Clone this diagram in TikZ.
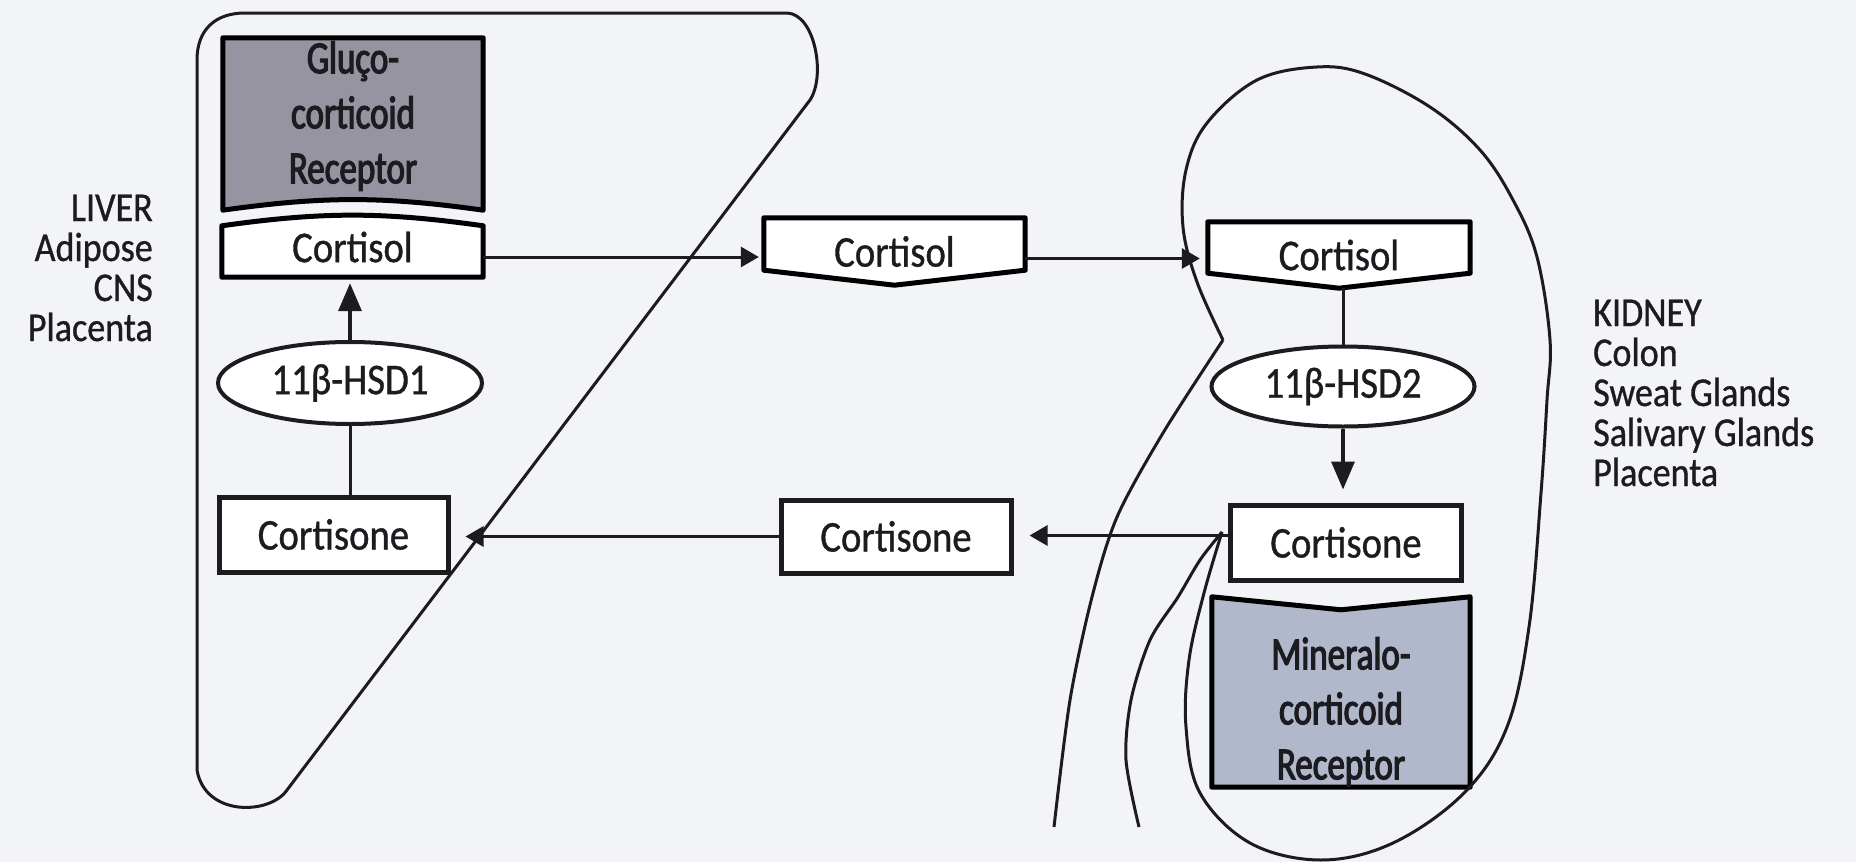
\documentclass[tikz,border=0pt]{standalone}
\usepackage{fontspec}
\setmainfont{Carlito}[FakeStretch=0.88,FakeBold=0.8]
\newfontfamily\receptorfont{Carlito}[FakeStretch=0.76,FakeBold=2.6]
\usepackage{xcolor}
\definecolor{bgpaper}{RGB}{243,244,248}
\definecolor{inkline}{RGB}{28,28,32}
\definecolor{glucofill}{RGB}{150,148,160}
\definecolor{minerofill}{RGB}{178,184,204}
\usetikzlibrary{arrows.meta,shapes.geometric}
\pgfdeclarelayer{paper}
\pgfdeclarelayer{shapes}
\pgfsetlayers{paper,shapes,main}
\newcommand{\hormtext}{\fontsize{44}{50}\selectfont}
\newcommand{\organtext}{\fontsize{41}{41}\selectfont}

\begin{document}
\begin{tikzpicture}[x=1pt,y=-1pt,color=inkline,
  hormone/.style={rectangle,inner sep=0pt,font=\hormtext},
  plainbox/.style={hormone,draw,line width=5pt,fill=white,minimum width=230pt,minimum height=74pt},
  receptor/.style={hormone,align=center,font=\receptorfont\fontsize{46}{55}\selectfont},
  enzyme/.style={ellipse,draw,line width=4pt,fill=white,inner sep=0pt,font=\hormtext},
  boxline/.style={line width=5pt,line join=round},
  link/.style={line width=3pt},
  flow/.style={link,-{Triangle[length=18pt,width=20pt]}},
  bigflow/.style={line width=3.5pt,-{Triangle[length=28pt,width=23pt]}},
  organline/.style={line width=3pt},
  organ/.style={font=\organtext,inner sep=0pt}]
  \begin{pgfonlayer}{paper}
    \fill[bgpaper] (0,0) rectangle (1856,862);
  \end{pgfonlayer}
  \useasboundingbox (0,0) rectangle (1856,862);

  \draw[organline] (197,770) -- (197,60) .. controls (197,30) and (215,13) .. (245,13) -- (787,13)
    .. controls (815,14) and (826,76) .. (810,100) -- (287,790) .. controls (270,815) and (205,817) .. (197,770);
  \draw[organline] plot[smooth,tension=0.6] coordinates {(1223,340) (1197,282) (1183,227) (1186,170) (1207,123)
    (1257,80) (1317,67) (1365,74) (1430,107) (1480,150) (1513,200) (1537,257) (1550,340) (1547,400) (1541,493)
    (1529,627) (1507,727) (1464,793) (1393,843) (1321,860) (1250,843) (1200,793) (1186,727) (1189,660) (1204,593) (1222,532)};
  \draw[organline] plot[smooth] coordinates {(1223,340) (1163,433) (1117,517) (1092,597) (1070,700) (1054,827)};
  \draw[organline] plot[smooth] coordinates {(1222,532) (1200,560) (1178,597) (1150,640) (1131,700) (1126,760) (1139,827)};

  \node[receptor,minimum width=260pt,minimum height=152pt] (gluco) at (353,116) {Gluço-\\corticoid\\Receptor};
  \node[hormone,minimum width=261pt,minimum height=60pt] (lcortisol) at (352.5,247) {Cortisol};
  \node[enzyme,minimum width=264pt,minimum height=82pt] (hsd1) at (350,383) {11β-HSD1};
  \node[plainbox,minimum width=229pt,minimum height=75pt] (lcortisone) at (333.5,534.5) {Cortisone};
  \node[hormone,minimum width=261pt,minimum height=67pt] (mcortisol) at (894.5,251.5) {Cortisol};
  \node[plainbox,minimum height=73pt] (mcortisone) at (896,536.5) {Cortisone};
  \node[hormone,minimum width=262pt,minimum height=66pt] (kcortisol) at (1339,255) {Cortisol};
  \node[enzyme,minimum width=263pt,minimum height=80pt] (hsd2) at (1343,386.5) {11β-HSD2};
  \node[plainbox,minimum width=231pt,minimum height=75pt] (kcortisone) at (1346,542.5) {Cortisone};
  \node[receptor,minimum width=258pt,minimum height=150pt] (mineral) at (1341,712) {Mineralo-\\corticoid\\Receptor};

  \begin{pgfonlayer}{shapes}
    \filldraw[boxline,fill=glucofill] ([yshift=2pt]gluco.north west) -- ([yshift=2pt]gluco.north east)
      -- ([yshift=-18pt]gluco.south east) to[bend right=8] ([yshift=-18pt]gluco.south west) -- cycle;
    \filldraw[boxline,fill=white] (lcortisol.south west) -- (lcortisol.south east) -- ([yshift=-9pt]lcortisol.north east)
      to[bend right=8] ([yshift=-9pt]lcortisol.north west) -- cycle;
    \filldraw[boxline,fill=white] (mcortisol.north west) -- (mcortisol.north east) -- ([yshift=15pt]mcortisol.south east)
      -- (mcortisol.south) -- ([yshift=15pt]mcortisol.south west) -- cycle;
    \filldraw[boxline,fill=white] (kcortisol.north west) -- (kcortisol.north east) -- ([yshift=15pt]kcortisol.south east)
      -- (kcortisol.south) -- ([yshift=15pt]kcortisol.south west) -- cycle;
    \filldraw[boxline,fill=minerofill] ([yshift=40pt]mineral.north west) -- ([yshift=27pt]mineral.north)
      -- ([yshift=40pt]mineral.north east) -- (mineral.south east) -- (mineral.south west) -- cycle;
  \end{pgfonlayer}

  \draw[bigflow,shorten >=6pt] (hsd1.north) -- (hsd1.north |- lcortisol.south);
  \draw[link] (lcortisone.north -| hsd1.south) -- (hsd1.south);
  \draw[flow,shorten >=5pt] ([yshift=-10pt]lcortisol.east) -- ([yshift=-10pt]lcortisol.east -| mcortisol.west);
  \draw[flow,shorten >=8pt] ([yshift=-7pt]mcortisol.east) -- ([yshift=-7pt]mcortisol.east -| kcortisol.west);
  \draw[link] (kcortisol.south -| hsd2.north) -- (hsd2.north);
  \draw[bigflow,shorten >=13pt] (hsd2.south) -- (hsd2.south |- kcortisone.north);
  \draw[flow,shorten >=16pt] ([yshift=7pt]kcortisone.west) -- ([yshift=7pt]kcortisone.west -| mcortisone.east);
  \draw[flow,shorten >=15pt] (mcortisone.west) -- (mcortisone.west -| lcortisone.east);

  \foreach \txt [count=\i] in {LIVER,Adipose,CNS,Placenta}
    \node[organ,anchor=base east] (liverlbl\i) at (153,181+40*\i) {\txt};
  \foreach \txt [count=\i] in {KIDNEY,Colon,Sweat Glands,Salivary Glands,Placenta}
    \node[organ,anchor=base west] (kidneylbl\i) at (1593,286+40*\i) {\txt};
\end{tikzpicture}
\end{document}
